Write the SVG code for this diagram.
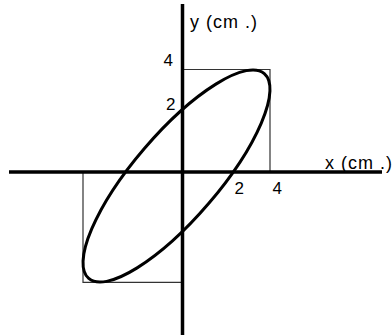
<svg xmlns="http://www.w3.org/2000/svg" width="392" height="335" viewBox="0 0 392 335">
<style>
.axis{stroke:#000;stroke-width:3.5;fill:none}
.box{stroke:#333;stroke-width:1.2;fill:none}
.curve{stroke:#000;stroke-width:3;fill:none}
text{font-family:"Liberation Sans",Arial,sans-serif;fill:#000}
.lab{font-size:18px;letter-spacing:1px}
.num{font-size:17px}
</style>
<rect width="392" height="335" fill="#fff"/>
<g id="guides">
<polyline class="box" points="182,69.5 270,69.5 270,172"/>
<polyline class="box" points="83,172 83,282.3 182,282.3"/>
</g>
<g id="axes">
<line class="axis" x1="9" y1="172" x2="382" y2="172"/>
<line class="axis" x1="182.5" y1="4" x2="182.5" y2="335"/>
</g>
<g id="ellipse">
<ellipse class="curve" cx="176.5" cy="176" rx="134.9" ry="42.3" transform="rotate(-49.4 176.5 176)"/>
</g>
<g id="labels">
<text class="lab" x="190" y="27.5">y (cm .)</text>
<text class="lab" x="325" y="168.5">x (cm .)</text>
<text class="num" x="163.5" y="66">4</text>
<text class="num" x="166" y="109.5">2</text>
<text class="num" x="234.5" y="194">2</text>
<text class="num" x="272.5" y="194">4</text>
</g>
</svg>
